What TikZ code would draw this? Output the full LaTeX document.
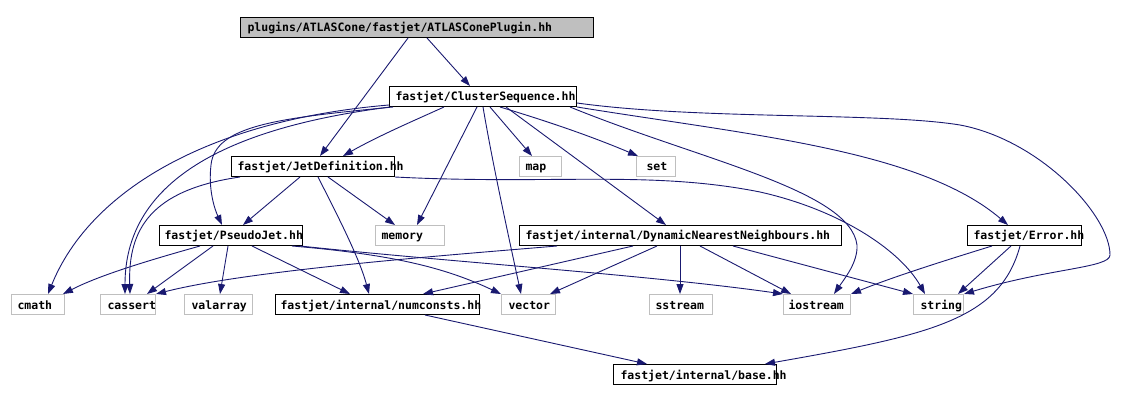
\documentclass[tikz,border=0pt]{standalone}
\usepackage{fontspec}
\newfontfamily\dvm{DejaVu Sans Mono}
\usetikzlibrary{arrows.meta}
\definecolor{edgec}{HTML}{191970}
\definecolor{greyc}{HTML}{BFBFBF}
\newcommand\fjnode[7]{\node[#2, inner xsep=#6pt] (#1) at (#3,#4) {\makebox[\dimexpr #5pt - #6pt - #6pt\relax][l]{#7}};}
\begin{document}
\begin{tikzpicture}[x=1pt,y=-1pt,
  fj/.style={draw=black, fill=white, line width=1pt, inner ysep=0pt, minimum height=20pt,
    text height=10pt, text depth=1pt, anchor=north west,
    font=\dvm\bfseries\fontsize{11.5}{12}\selectfont},
  sys/.style={fj, draw=greyc},
  topnode/.style={fj, fill=greyc},
  dep/.style={draw=edgec, line width=0.9pt, -{Triangle[length=10pt,width=7pt]}}]
\useasboundingbox (0,0) rectangle (1144,401);
% nodes
\fjnode{root}{topnode}{240}{17}{353}{7}{plugins/ATLASCone/fastjet/ATLASConePlugin.hh}
\fjnode{cs}{fj}{389}{86}{187}{6}{fastjet/ClusterSequence.hh}
\fjnode{jd}{fj}{231}{156}{163}{6}{fastjet/JetDefinition.hh}
\fjnode{map}{sys}{519}{156}{42}{6}{map}
\fjnode{set}{sys}{636}{156}{39}{10}{set}
\fjnode{pj}{fj}{159}{225}{143}{5}{fastjet/PseudoJet.hh}
\fjnode{memory}{sys}{375}{225}{69}{6}{memory}
\fjnode{dnn}{fj}{519}{225}{322}{6}{fastjet/internal/DynamicNearestNeighbours.hh}
\fjnode{error}{fj}{967}{225}{114}{6}{fastjet/Error.hh}
\fjnode{cmath}{sys}{11}{294}{53}{6}{cmath}
\fjnode{cassert}{sys}{100}{294}{55}{7}{cassert}
\fjnode{valarray}{sys}{184}{294}{68}{7}{valarray}
\fjnode{numconsts}{fj}{275}{294}{204}{5}{fastjet/internal/numconsts.hh}
\fjnode{vector}{sys}{501}{294}{54}{7}{vector}
\fjnode{sstream}{sys}{649}{294}{63}{6}{sstream}
\fjnode{iostream}{sys}{783}{294}{67}{5}{iostream}
\fjnode{string}{sys}{913}{294}{50}{7}{string}
\fjnode{base}{fj}{613}{364}{163}{7}{fastjet/internal/base.hh}
% edges from root
\draw[dep] ([xshift=187pt]root.south west) -- ([xshift=81pt]cs.north west);
\draw[dep] ([xshift=168pt]root.south west) -- ([xshift=89pt]jd.north west);
% edges from ClusterSequence
\draw[dep] ([xshift=55pt]cs.south west) .. controls (420,118) and (380,135) .. ([xshift=112pt]jd.north west);
\draw[dep] ([yshift=2pt]cs.south west) .. controls (210,120) and (90,190) .. ([xshift=37pt]cmath.north west);
\draw[dep] ([xshift=1pt]cs.south west) .. controls (250,125) and (125,170) .. ([xshift=25pt]cassert.north west);
\draw[dep] ([xshift=4pt]cs.south west) .. controls (280,118) and (215,125) .. (211,165)
  .. controls (208,190) and (215,210) .. ([xshift=63pt]pj.north west);
\draw[dep] ([xshift=88pt]cs.south west) -- ([xshift=42pt]memory.north west);
\draw[dep] ([xshift=94pt]cs.south west) .. controls (492,160) and (505,220) .. ([xshift=20pt]vector.north west);
\draw[dep] ([xshift=101pt]cs.south west) -- ([xshift=13pt]map.north west);
\draw[dep] ([xshift=111pt]cs.south west) .. controls (560,125) and (600,140) .. ([xshift=2pt]set.north west);
\draw[dep] ([xshift=117pt]cs.south west) -- ([xshift=147pt]dnn.north west);
\draw[dep] ([xshift=181pt]cs.south west) .. controls (700,160) and (850,190) .. (857,245)
  .. controls (858,262) and (845,278) .. ([xshift=51pt]iostream.north west);
\draw[dep] (cs.south east) .. controls (750,135) and (920,150) .. ([xshift=41pt]error.north west);
\draw[dep] ([yshift=4pt]cs.south east) .. controls (700,120) and (880,112) .. (960,125)
  .. controls (1040,140) and (1110,215) .. (1110,255)
  .. controls (1110,268) and (1050,268) .. (string.north east);
% edges from JetDefinition
\draw[dep] ([xshift=69pt]jd.south west) -- ([xshift=84pt]pj.north west);
\draw[dep] ([xshift=97pt]jd.south west) -- ([xshift=20pt]memory.north west);
\draw[dep] ([xshift=87pt]jd.south west) .. controls (340,220) and (360,260) .. ([xshift=94pt]numconsts.north west);
\draw[dep] ([xshift=9pt]jd.south west) .. controls (150,190) and (128,230) .. ([xshift=30pt]cassert.north west);
\draw[dep] (jd.south east) .. controls (550,185) and (650,170) .. (760,192)
  .. controls (840,210) and (900,250) .. ([xshift=12pt]string.north west);
% edges from PseudoJet
\draw[dep] ([xshift=41pt]pj.south west) .. controls (150,260) and (100,275) .. ([xshift=52pt]cmath.north west);
\draw[dep] ([xshift=54pt]pj.south west) -- ([xshift=47pt]cassert.north west);
\draw[dep] ([xshift=69pt]pj.south west) -- ([xshift=36pt]valarray.north west);
\draw[dep] ([xshift=93pt]pj.south west) -- ([xshift=75pt]numconsts.north west);
\draw[dep] ([xshift=133pt]pj.south west) .. controls (400,255) and (450,270) .. (vector.north west);
\draw[dep] ([xshift=141pt]pj.south west) .. controls (450,262) and (650,275) .. (iostream.north west);
% edges from DynamicNearestNeighbours
\draw[dep] ([xshift=114pt]dnn.south west) -- ([xshift=148pt]numconsts.north west);
\draw[dep] ([xshift=38pt]dnn.south west) .. controls (450,255) and (250,270) .. (cassert.north east);
\draw[dep] ([xshift=138pt]dnn.south west) -- ([xshift=49pt]vector.north west);
\draw[dep] ([xshift=161pt]dnn.south west) -- ([xshift=31pt]sstream.north west);
\draw[dep] ([xshift=181pt]dnn.south west) -- ([xshift=8pt]iostream.north west);
\draw[dep] ([xshift=214pt]dnn.south west) -- (string.north west);
% edges from Error
\draw[dep] ([xshift=25pt]error.south west) .. controls (940,262) and (890,278) .. (iostream.north east);
\draw[dep] ([xshift=44pt]error.south west) -- ([xshift=45pt]string.north west);
\draw[dep] ([xshift=53pt]error.south west) .. controls (1000,320) and (930,335) .. ([xshift=152pt]base.north west);
% numconsts to base
\draw[dep] ([xshift=150pt]numconsts.south west) -- ([xshift=34pt]base.north west);
\end{tikzpicture}
\end{document}
